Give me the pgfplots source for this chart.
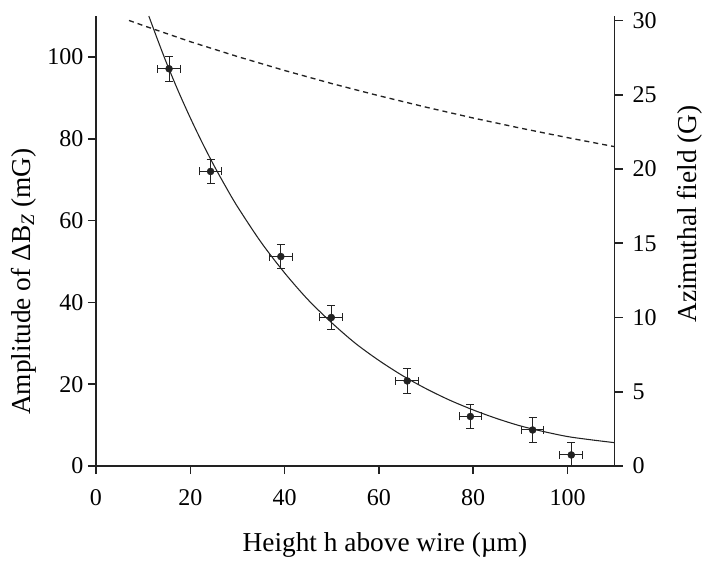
\documentclass[border=0pt]{standalone}
\usepackage{fontspec}
\setmainfont{Liberation Serif}
\usepackage{pgfplots}
\pgfplotsset{compat=1.18}
\definecolor{ink}{HTML}{222222}

\begin{document}
\begin{tikzpicture}[font=\fontsize{18}{21}\selectfont]
\pgfplotsset{
  common/.style={
    scale only axis, width=389pt, height=337.5pt,
    xmin=0, xmax=110,
    tick align=outside, major tick length=6pt,
    axis line style={ink, line width=1.2pt},
    every tick/.style={ink, line width=1.2pt},
    /pgf/number format/assume math mode=true,
    tick label style={font=\fontsize{18}{21}\selectfont},
    label style={font=\fontsize{20.5}{24}\selectfont},
  }
}
\begin{axis}[common, name=main,
  axis x line*=bottom, axis y line*=left,
  ymin=0, ymax=110,
  xtick={0,20,...,100}, ytick={0,20,...,100},
  xticklabel style={yshift=-8pt},
  xlabel={Height h above wire (µm)},
  ylabel={Amplitude of ΔB\textsubscript{\textit{Z}} (mG)},
  xlabel style={at={(axis description cs:0.557,-0.175)}, anchor=center},
  ylabel style={at={(axis description cs:-0.14,0.41)}, anchor=center},
]
% fitted curve
\addplot[ink, line width=0.8pt, smooth] coordinates {
  (11.2,110.0) (13,104.4) (15,98.4) (17.5,91.5) (20,85.1) (22.5,79.1)
  (25,73.5) (27.5,68.3) (30,63.4) (35,54.7) (40,47.2) (45,40.6)
  (50,35.0) (55,30.0) (60,25.8) (65,22.1) (70,18.9) (75,16.1)
  (80,13.7) (85,11.6) (90,9.8) (95,8.4) (100,7.2) (105,6.4) (110,5.7)
};
% measured amplitudes
\addplot[ink, only marks, mark=*, mark size=2.6pt,
  error bars/.cd, x dir=both, x explicit, y dir=both, y explicit,
  error bar style={ink, line width=0.75pt},
  error mark options={ink, line width=0.75pt, mark size=3pt, rotate=90}]
  table[x=x, y=y, x error=ex, y error=ey] {
x     y     ex   ey
15.5  97.1  2.4  3.0
24.3  72.0  2.4  3.0
39.2  51.2  2.4  3.0
49.9  36.3  2.4  3.0
66.0  20.8  2.4  3.0
79.4  12.1  2.4  3.0
92.6  8.8   2.4  3.0
100.8 2.7   2.4  3.0
};
\end{axis}

\begin{axis}[common,
  axis x line=none, axis y line*=right,
  ymin=0, ymax=30.3,
  ytick={0,5,...,30},
  yticklabel style={xshift=4pt},
  ylabel={Azimuthal field (G)},
  ylabel style={at={(axis description cs:1.145,0.56)}, anchor=center},
]
\addplot[ink, line width=1pt, dash pattern=on 3.8pt off 3pt] coordinates {
  (7,30.0) (10,29.66) (20,28.57) (30,27.57) (40,26.63) (50,25.75)
  (60,24.93) (70,24.16) (80,23.43) (90,22.75) (100,22.11) (110,21.50)
};
\end{axis}

\pgfresetboundingbox
\path (main.south west) ++(-72pt,-72.75pt) rectangle ++(529.5pt,422.25pt);
\end{tikzpicture}
\end{document}
